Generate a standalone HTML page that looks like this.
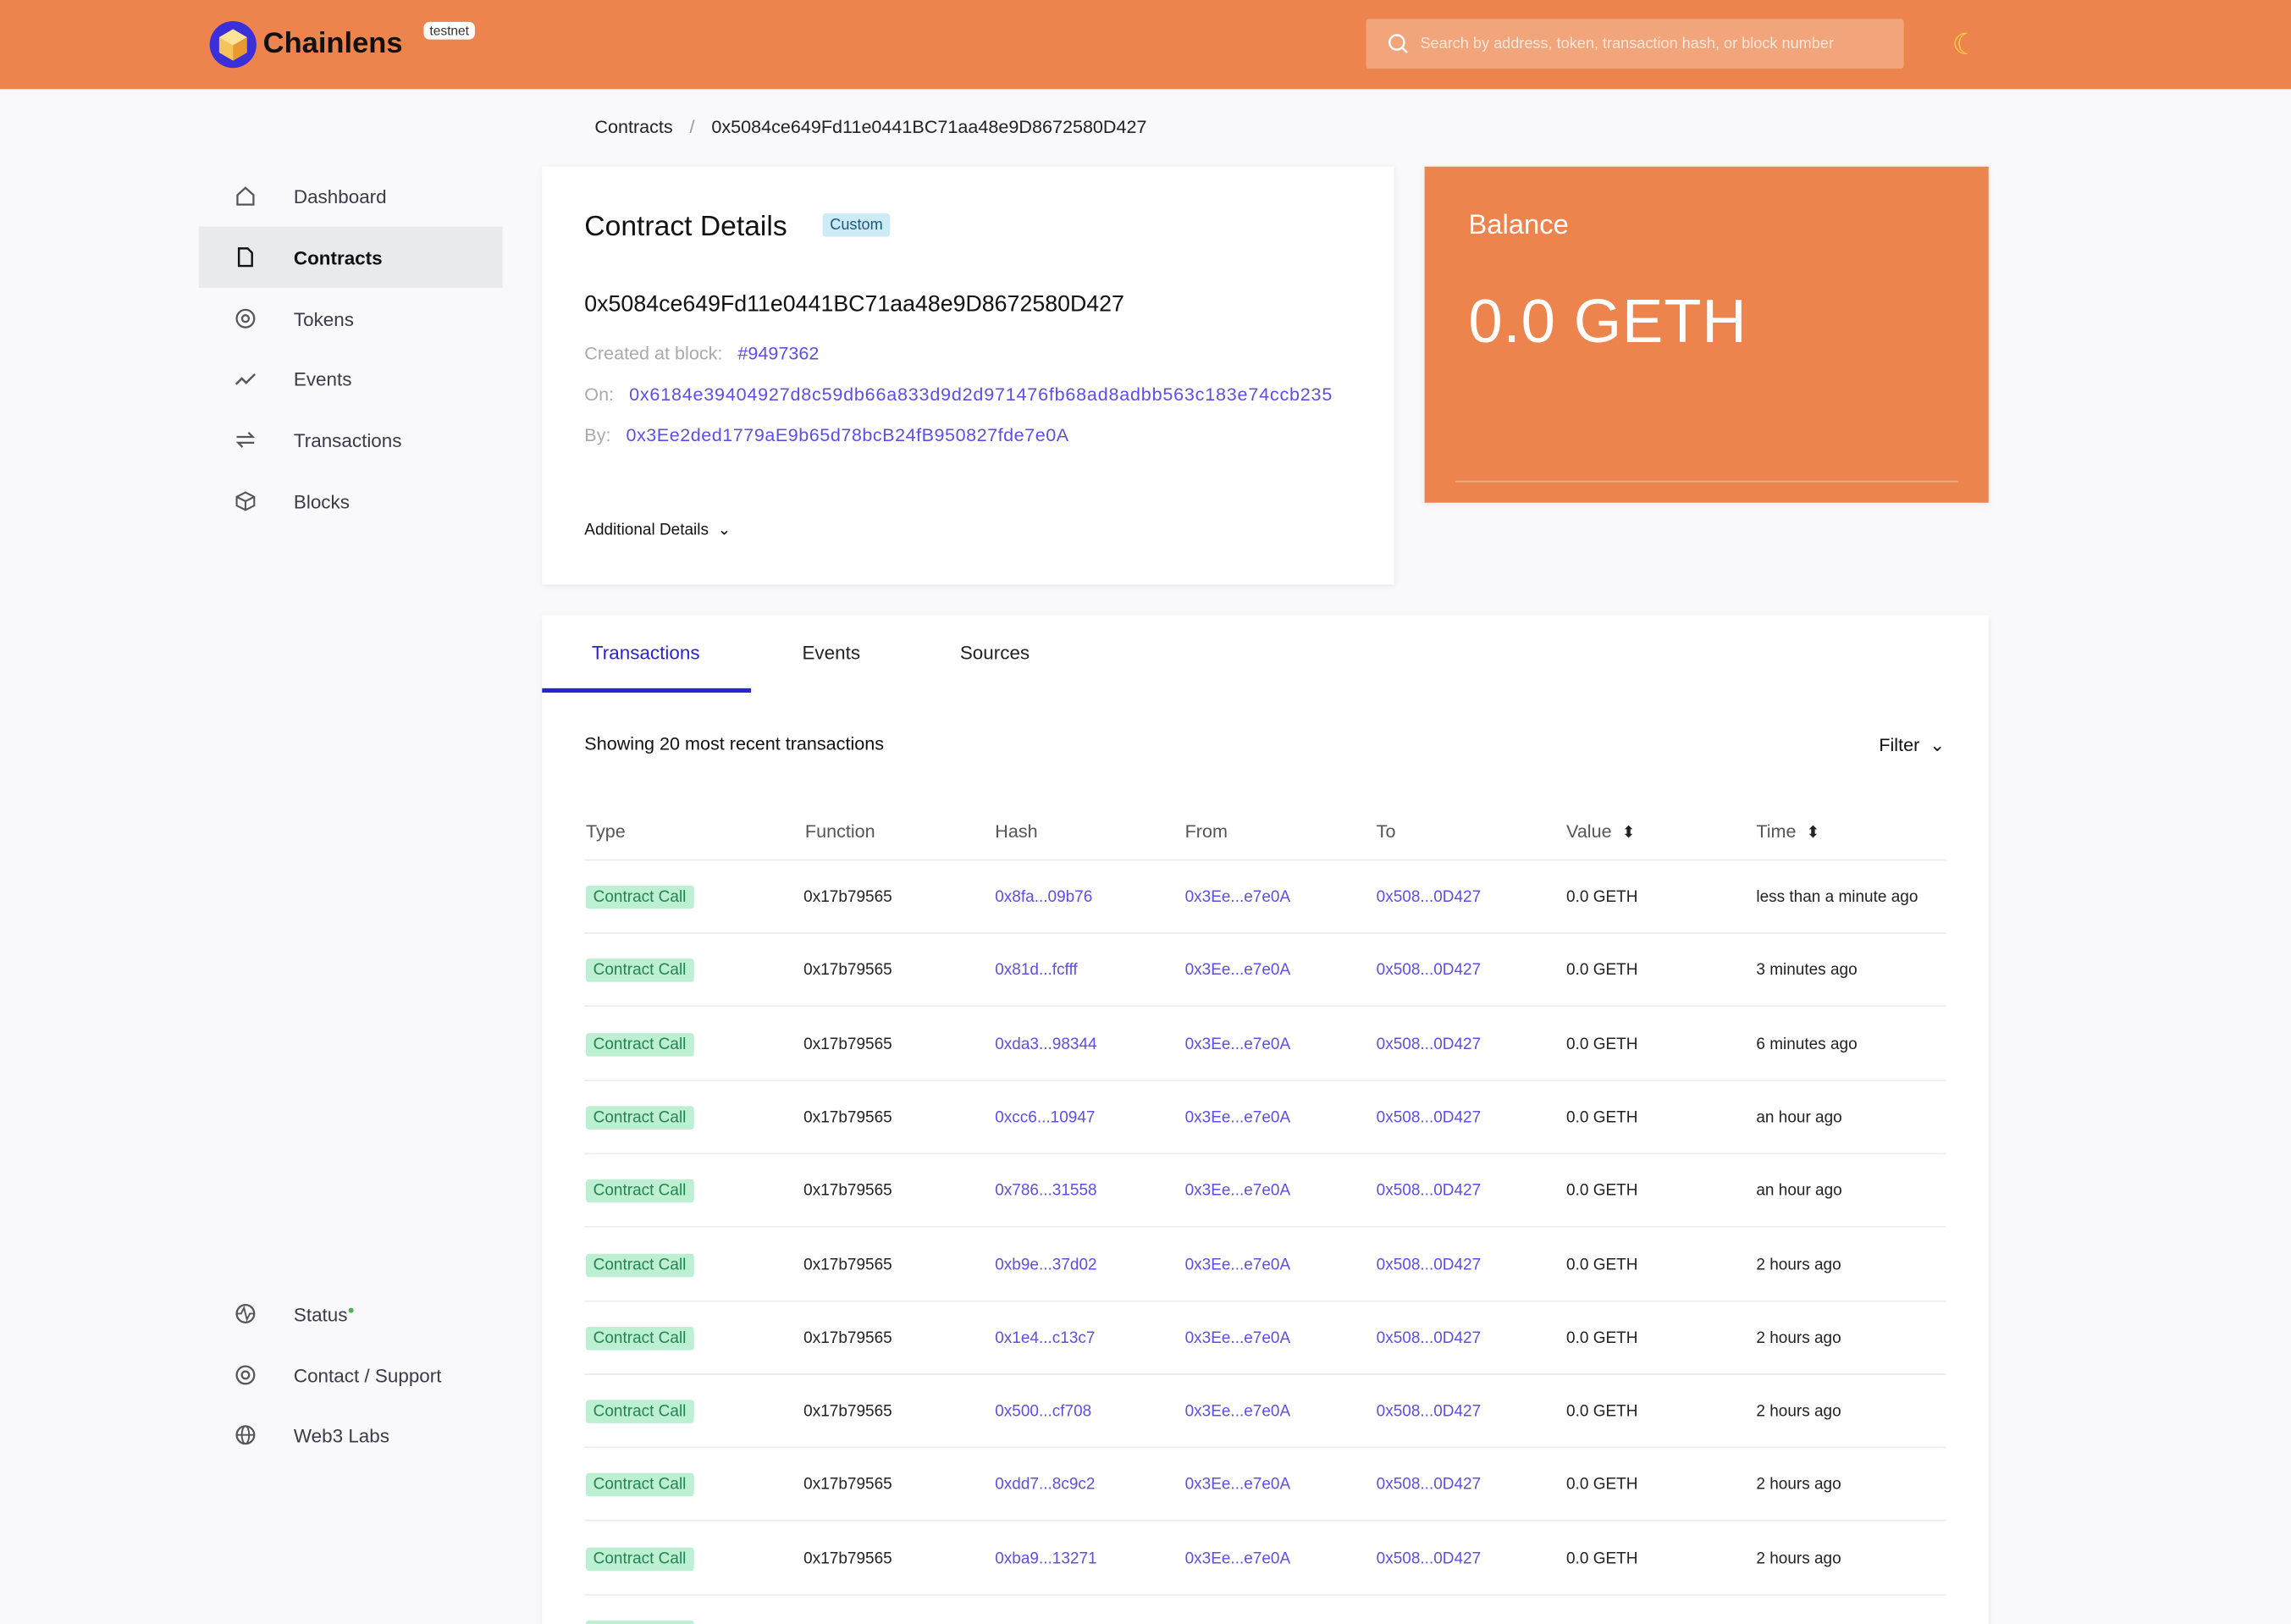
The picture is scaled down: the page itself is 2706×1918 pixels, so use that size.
<!DOCTYPE html>
<html><head><meta charset="utf-8">
<style>
*{box-sizing:border-box;margin:0;padding:0}
html,body{width:2706px;height:1918px;overflow:hidden;background:#F9F9FB}
#w{width:1568px;height:1112px;transform:scale(1.72577);transform-origin:0 0;position:relative;font-family:"Liberation Sans",sans-serif;color:#1a1a2e}
.a{position:absolute;white-space:nowrap}
.hdr{position:absolute;left:0;top:0;width:1568px;height:61px;background:#EE844D}
.side{font-size:13px;color:#3a3a48}
.card{position:absolute;background:#fff;box-shadow:0 1px 4px rgba(0,0,0,.08)}
.th{font-size:12.5px;color:#555}
.td{font-size:11px;color:#222}
.lnk,.td.lnk{color:#5b4fe6}
.badge{position:absolute;background:#BDF0D3;color:#23844f;font-size:11px;padding:2px 5px;border-radius:2px}
.sep{position:absolute;left:400px;width:932px;height:1px;background:#ececf0}
.ic{position:absolute;width:14px;height:14px}
</style></head><body><div id="w">
<div class="hdr"></div>
<svg class="a" style="left:143px;top:14px" width="33" height="33" viewBox="0 0 33 33"><circle cx="16.5" cy="16.5" r="16" fill="#3b2fd9"/><polygon points="16.5,6 26,11.5 26,22 16.5,27.5 7,22 7,11.5" fill="#F6C35A"/><polygon points="16.5,6 26,11.5 16.5,17 7,11.5" fill="#fbe39a"/><polygon points="16.5,17 26,11.5 26,22 16.5,27.5" fill="#e89a30"/></svg>
<div class="a" style="left:180px;top:19px;font-size:20px;font-weight:bold;color:#111">Chainlens</div>
<div class="a" style="left:290px;top:15px;background:#fff;border-radius:4px;font-size:9px;padding:1px 4px;color:#333">testnet</div>
<div class="a" style="left:935px;top:13px;width:368px;height:34px;background:#F2A47B;border-radius:2px"></div>
<svg class="a" style="left:950px;top:23px" width="14" height="14"><circle cx="6" cy="6" r="5" fill="none" stroke="#fff" stroke-width="1.4"/><line x1="10" y1="10" x2="13" y2="13" stroke="#fff" stroke-width="1.4"/></svg>
<div class="a" style="left:972px;top:24px;font-size:10.5px;color:#fde8dc">Search by address, token, transaction hash, or block number</div>
<div class="a" style="left:1336px;top:18px;font-size:20px;color:#F6D24A">☾</div>

<div class="a" style="left:407px;top:80px;font-size:12.5px;color:#222">Contracts <span style="color:#999;margin:0 8px">/</span> 0x5084ce649Fd11e0441BC71aa48e9D8672580D427</div>

<div class="a" style="left:136px;top:155px;width:208px;height:42px;background:#E9EAEE"></div>
<svg class="ic" style="left:161px;top:127px" viewBox="0 0 14 14"><path d="M1.5 6.5L7 1.5l5.5 5V13h-11z" fill="none" stroke="#555" stroke-width="1.3"/></svg>
<div class="a side" style="left:201px;top:127px">Dashboard</div>
<svg class="ic" style="left:161px;top:169px" viewBox="0 0 14 14"><path d="M2.5 1h6l3 3v9h-9z" fill="none" stroke="#111" stroke-width="1.4"/></svg>
<div class="a side" style="left:201px;top:169px;font-weight:bold;color:#111">Contracts</div>
<svg class="ic" style="left:161px;top:211px" viewBox="0 0 14 14"><circle cx="7" cy="7" r="6" fill="none" stroke="#555" stroke-width="1.3"/><circle cx="7" cy="7" r="2.3" fill="none" stroke="#555" stroke-width="1.3"/></svg>
<div class="a side" style="left:201px;top:211px">Tokens</div>
<svg class="ic" style="left:161px;top:253px" viewBox="0 0 14 14"><path d="M0.5 10l4-4 3 3 6-6" fill="none" stroke="#555" stroke-width="1.4"/></svg>
<div class="a side" style="left:201px;top:252px">Events</div>
<svg class="ic" style="left:161px;top:294px" viewBox="0 0 14 14"><path d="M1 5h11l-3-3M13 9H2l3 3" fill="none" stroke="#555" stroke-width="1.3"/></svg>
<div class="a side" style="left:201px;top:294px">Transactions</div>
<svg class="ic" style="left:161px;top:336px" viewBox="0 0 14 14"><path d="M7 1l6 3v6l-6 3-6-3V4zM1 4l6 3 6-3M7 7v6" fill="none" stroke="#555" stroke-width="1.2"/></svg>
<div class="a side" style="left:201px;top:336px">Blocks</div>
<svg class="ic" style="left:161px;top:892px" viewBox="0 0 14 14"><circle cx="7" cy="7" r="6" fill="none" stroke="#555" stroke-width="1.3"/><path d="M1 7h3l2-4 2 8 2-4h3" fill="none" stroke="#555" stroke-width="1.1"/></svg>
<div class="a side" style="left:201px;top:892px">Status<sup style="color:#4caf50;font-size:8px">●</sup></div>
<svg class="ic" style="left:161px;top:934px" viewBox="0 0 14 14"><circle cx="7" cy="7" r="6" fill="none" stroke="#555" stroke-width="1.3"/><circle cx="7" cy="7" r="2.5" fill="none" stroke="#555" stroke-width="1.3"/></svg>
<div class="a side" style="left:201px;top:934px">Contact / Support</div>
<svg class="ic" style="left:161px;top:975px" viewBox="0 0 14 14"><circle cx="7" cy="7" r="6" fill="none" stroke="#555" stroke-width="1.3"/><ellipse cx="7" cy="7" rx="2.5" ry="6" fill="none" stroke="#555" stroke-width="1.1"/><line x1="1" y1="7" x2="13" y2="7" stroke="#555" stroke-width="1.1"/></svg>
<div class="a side" style="left:201px;top:975px">Web3 Labs</div>

<div class="card" style="left:371px;top:114px;width:583px;height:286px"></div>
<div class="a" style="left:400px;top:144px;font-size:19.5px;color:#111">Contract Details</div>
<div class="a" style="left:563px;top:146px;background:#CDEBF7;color:#1a5a7a;font-size:10.5px;padding:2px 5px;border-radius:2px">Custom</div>
<div class="a" style="left:400px;top:200px;font-size:15.5px;color:#111">0x5084ce649Fd11e0441BC71aa48e9D8672580D427</div>
<div class="a" style="left:400px;top:235px;font-size:12.5px;color:#aaa">Created at block: &nbsp;&nbsp;<span class="lnk">#9497362</span></div>
<div class="a" style="left:400px;top:263px;font-size:12.5px;color:#aaa">On: &nbsp;&nbsp;<span class="lnk" style="letter-spacing:0.45px">0x6184e39404927d8c59db66a833d9d2d971476fb68ad8adbb563c183e74ccb235</span></div>
<div class="a" style="left:400px;top:291px;font-size:12.5px;color:#aaa">By: &nbsp;&nbsp;<span class="lnk" style="letter-spacing:0.3px">0x3Ee2ded1779aE9b65d78bcB24fB950827fde7e0A</span></div>
<div class="a" style="left:400px;top:356px;font-size:11px;color:#111">Additional Details &nbsp;⌄</div>

<div class="card" style="left:975px;top:114px;width:386px;height:230px;background:#EE844D"></div>
<div class="a" style="left:1005px;top:144px;font-size:19px;color:#fff">Balance</div>
<div class="a" style="left:1005px;top:196px;font-size:42px;color:#fff;font-weight:300;letter-spacing:0.5px">0.0 GETH</div>
<div class="a" style="left:996px;top:329px;width:344px;height:1px;background:#F3AE88"></div>

<div class="card" style="left:371px;top:421px;width:990px;height:700px"></div>
<div class="a" style="left:405px;top:439px;font-size:13px;color:#2a22d6">Transactions</div>
<div class="a" style="left:371px;top:471px;width:143px;height:3px;background:#2a22d6"></div>
<div class="a" style="left:549px;top:439px;font-size:13px;color:#222">Events</div>
<div class="a" style="left:657px;top:439px;font-size:13px;color:#222">Sources</div>
<div class="a" style="left:400px;top:502px;font-size:12.5px;color:#111">Showing 20 most recent transactions</div>
<div class="a" style="left:1286px;top:502px;font-size:12.5px;color:#111">Filter &nbsp;⌄</div>

<div class="a th" style="left:401px;top:562px">Type</div>
<div class="a th" style="left:551px;top:562px">Function</div>
<div class="a th" style="left:681px;top:562px">Hash</div>
<div class="a th" style="left:811px;top:562px">From</div>
<div class="a th" style="left:942px;top:562px">To</div>
<div class="a th" style="left:1072px;top:562px">Value &nbsp;<span style="font-size:11px;color:#222">⬍</span></div>
<div class="a th" style="left:1202px;top:562px">Time &nbsp;<span style="font-size:11px;color:#222">⬍</span></div>
<div class="sep" style="top:588px"></div>

<div id="rows"></div>
<script>
var h=["0x8fa...09b76","0x81d...fcfff","0xda3...98344","0xcc6...10947","0x786...31558","0xb9e...37d02","0x1e4...c13c7","0x500...cf708","0xdd7...8c9c2","0xba9...13271",""];
var t=["less than a minute ago","3 minutes ago","6 minutes ago","an hour ago","an hour ago","2 hours ago","2 hours ago","2 hours ago","2 hours ago","2 hours ago",""];
var s="";
for(var i=0;i<11;i++){var y=615+50.3*i;
s+='<div class="badge" style="left:401px;top:'+(y-9)+'px">Contract Call</div>';
if(i<10){
s+='<div class="a td" style="left:550px;top:'+(y-7)+'px">0x17b79565</div>';
s+='<div class="a td lnk" style="left:681px;top:'+(y-7)+'px">'+h[i]+'</div>';
s+='<div class="a td lnk" style="left:811px;top:'+(y-7)+'px">0x3Ee...e7e0A</div>';
s+='<div class="a td lnk" style="left:942px;top:'+(y-7)+'px">0x508...0D427</div>';
s+='<div class="a td" style="left:1072px;top:'+(y-7)+'px">0.0 GETH</div>';
s+='<div class="a td" style="left:1202px;top:'+(y-7)+'px">'+t[i]+'</div>';
s+='<div class="sep" style="top:'+(y+23)+'px"></div>';}
}
document.getElementById("rows").innerHTML=s;
</script>
</div></body></html>
